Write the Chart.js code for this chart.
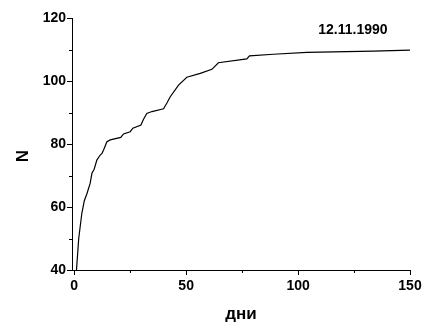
<!DOCTYPE html>
<html>
<head>
<meta charset="utf-8">
<script src="https://cdn.jsdelivr.net/npm/chart.js@4"></script>
<style>
  html, body { margin: 0; padding: 0; background: #fff; }
  #wrap { width: 425px; height: 323px; }
</style>
</head>
<body>
<div id="wrap"><canvas id="c" width="425" height="323"></canvas></div>
<script>
// Cumulative count N by day since 12.11.1990
const days = [1, 2, 3.4, 4.5, 5.7, 7.1, 7.9, 8.9, 10.1, 11.6, 12.4, 13.1, 14.6, 16.1, 20.8, 22, 25, 26.2, 29.8, 30.9, 32.4, 34.7, 39.9, 41.4, 42.9, 46.6, 50.3, 56.3, 61.5, 64.4, 77.1, 78.3, 89, 103.9, 133.6, 150];
const counts = [40, 50, 58, 62, 64.3, 67.5, 70.7, 72, 74.9, 76.5, 77, 78.1, 80.7, 81.3, 82.1, 83.2, 83.9, 85, 86, 87.8, 89.7, 90.3, 91.2, 93, 95, 98.7, 101.2, 102.4, 103.7, 105.8, 107, 108, 108.5, 109.1, 109.5, 109.8];

const xTicks = [0, 50, 100, 150];
const xMinorTicks = [25, 75, 125];
const yTicks = [40, 60, 80, 100, 120];
const yMinorTicks = [50, 70, 90, 110];

const dateLabel = '12.11.1990';
const xTitle = 'дни';
const yTitle = 'N';

const FONT = "'Liberation Sans', Arial, sans-serif";

const points = days.map((d, i) => ({ x: d, y: counts[i] }));

// Short outward minor ticks plus the in-plot date and the y-axis title
const extras = {
  id: 'extras',
  afterDraw(chart) {
    const { ctx, chartArea, scales } = chart;
    const xs = scales.x, ys = scales.y;
    ctx.save();
    ctx.strokeStyle = '#000';
    ctx.lineWidth = 1;
    ctx.beginPath();
    xMinorTicks.forEach(v => {
      const px = Math.round(xs.getPixelForValue(v)) + 0.5;
      ctx.moveTo(px, chartArea.bottom);
      ctx.lineTo(px, chartArea.bottom + 3);
    });
    yMinorTicks.forEach(v => {
      const py = Math.round(ys.getPixelForValue(v)) + 0.5;
      ctx.moveTo(chartArea.left, py);
      ctx.lineTo(chartArea.left - 3, py);
    });
    ctx.stroke();

    ctx.fillStyle = '#000';
    ctx.font = `bold 14px ${FONT}`;
    ctx.textAlign = 'center';
    ctx.textBaseline = 'middle';
    ctx.fillText(dateLabel, xs.getPixelForValue(124.5), ys.getPixelForValue(116.3));

    ctx.font = `bold 17px ${FONT}`;
    ctx.translate(chartArea.left - 49, (chartArea.top + chartArea.bottom) / 2 + 12);
    ctx.rotate(-Math.PI / 2);
    ctx.fillText(yTitle, 0, 0);
    ctx.restore();
  }
};

new Chart(document.getElementById('c'), {
  type: 'line',
  data: {
    datasets: [{
      data: points,
      borderColor: '#000',
      borderWidth: 1.2,
      pointRadius: 0,
      tension: 0,
      fill: false
    }]
  },
  options: {
    responsive: false,
    animation: false,
    layout: { padding: { top: 18, right: 15, left: 0, bottom: 0 } },
    plugins: { legend: { display: false }, tooltip: { enabled: false }, title: { display: false } },
    scales: {
      x: {
        type: 'linear',
        min: -1,
        max: 150,
        afterBuildTicks: s => { s.ticks = xTicks.map(v => ({ value: v })); },
        afterFit: s => { s.height = 53; },
        grid: { display: true, drawOnChartArea: false, drawTicks: true, tickLength: 5, color: '#000' },
        border: { display: true, color: '#000', width: 1 },
        ticks: { color: '#000', font: { family: FONT, size: 14, weight: 'bold' }, padding: 3, maxRotation: 0 },
        title: { display: true, text: xTitle, color: '#000', font: { family: FONT, size: 17, weight: 'bold' }, padding: { top: 0, bottom: -2 } }
      },
      y: {
        type: 'linear',
        min: 40,
        max: 120,
        afterBuildTicks: s => { s.ticks = yTicks.map(v => ({ value: v })); },
        afterFit: s => { s.width = 72; },
        grid: { display: true, drawOnChartArea: false, drawTicks: true, tickLength: 5, color: '#000' },
        border: { display: true, color: '#000', width: 1 },
        ticks: { color: '#000', font: { family: FONT, size: 14, weight: 'bold' }, padding: 1 },
        title: { display: false }
      }
    }
  },
  plugins: [extras]
});
</script>
</body>
</html>
